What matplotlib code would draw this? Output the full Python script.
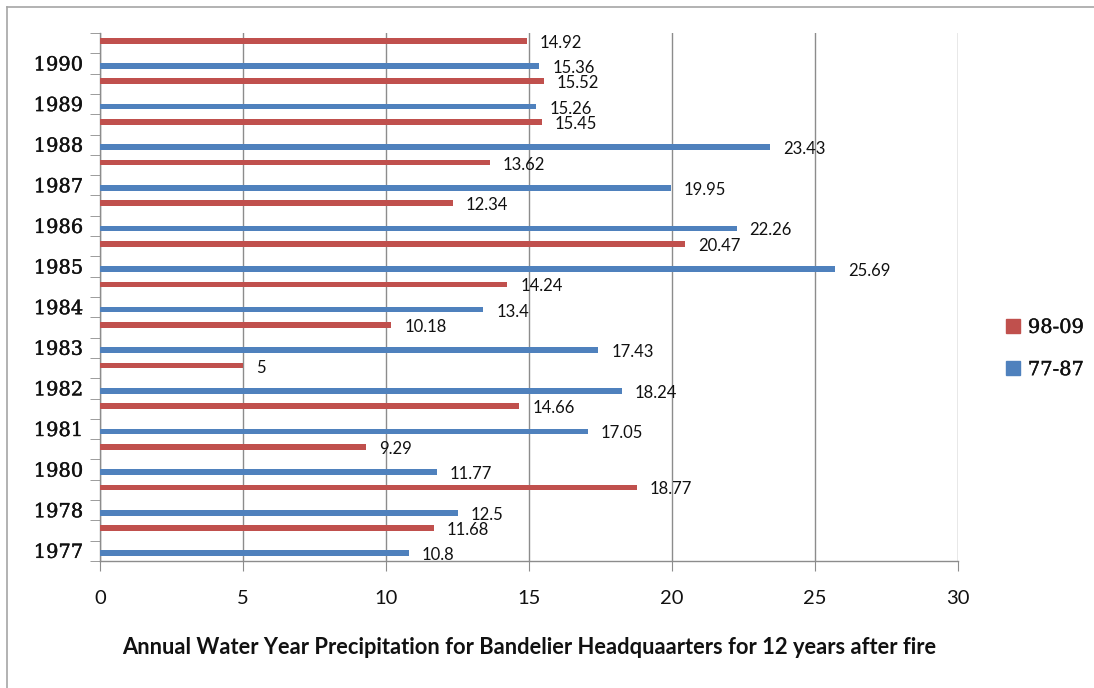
import matplotlib
matplotlib.use("Agg")
import matplotlib.pyplot as plt
import matplotlib.patheffects as pe
from matplotlib.patches import Patch
from matplotlib.lines import Line2D
import numpy as np

years = ['1977', '1978', '1980', '1981', '1982', '1983', '1984', '1985',
         '1986', '1987', '1988', '1989', '1990']
series_77_87 = [10.8, 12.5, 11.77, 17.05, 18.24, 17.43, 13.4, 25.69,
                22.26, 19.95, 23.43, 15.26, 15.36]
series_98_09 = [11.68, 18.77, 9.29, 14.66, 5, 10.18, 14.24, 20.47,
                12.34, 13.62, 15.45, 15.52, 14.92]
x_ticks = [0, 5, 10, 15, 20, 25, 30]
title = "Annual Water Year Precipitation for Bandelier Headquaarters for 12 years after fire"

RED = "#C0504D"
BLUE = "#4F81BD"
GRID = "#8C8C8C"
TXT = "#111111"

W, H = 1094, 688
fig = plt.figure(figsize=(W / 100, H / 100), dpi=100)
ax = fig.add_axes([100 / W, 1 - 561 / H, 858 / W, (561 - 33) / H])

n = len(years)
slot_blue = np.arange(n) * 2          # slots 0,2,4...
slot_red = np.arange(n) * 2 + 1       # slots 1,3,5...
off = 0.12
bh = 0.28

ax.barh(slot_blue - off, series_77_87, height=bh, color=BLUE, zorder=3)
ax.barh(slot_red + off, series_98_09, height=bh, color=RED, zorder=3)

for y, v in zip(slot_blue - off, series_77_87):
    ax.annotate(f"{v:g}", (v, y), xytext=(13, -2), textcoords="offset pixels",
                ha="left", va="center", fontsize=12, family="Lato", color=TXT)
for y, v in zip(slot_red + off, series_98_09):
    ax.annotate(f"{v:g}", (v, y), xytext=(13, -2), textcoords="offset pixels",
                ha="left", va="center", fontsize=12, family="Lato", color=TXT)

ax.set_xlim(0, 30)
ax.set_ylim(-0.5, 2 * n - 0.5)
ax.set_xticks(x_ticks)
ax.set_xticklabels([str(t) for t in x_ticks], fontsize=14.5, family="Lato", color=TXT)
ax.tick_params(axis="x", length=7, color=GRID, pad=14, direction="out")

heavy = [pe.withStroke(linewidth=0.3, foreground=TXT)]
ax.set_yticks(slot_blue)
ax.set_yticklabels(years, fontsize=14, family="DejaVu Serif", color=TXT)
for lab in ax.get_yticklabels():
    lab.set_path_effects(heavy)
ax.tick_params(axis="y", which="major", length=0, pad=12)
ax.set_yticks(np.arange(-0.5, 2 * n, 1.0), minor=True)
ax.tick_params(axis="y", which="minor", length=7, color=GRID, direction="out")

ax.grid(axis="x", color=GRID, linewidth=1.0, zorder=0)
ax.set_axisbelow(True)
for s in ["top", "right"]:
    ax.spines[s].set_visible(False)
for s in ["left", "bottom"]:
    ax.spines[s].set_color(GRID)
    ax.spines[s].set_linewidth(1.0)

# x label (title) fitted to reference width
t = fig.text(529 / W, 1 - 648 / H, title, ha="center", va="center",
             fontsize=13, fontweight="bold", family="Lato", color=TXT)
fig.canvas.draw()
wpx = t.get_window_extent().width
t.set_fontsize(13 * 810 / wpx)

handles = [Patch(facecolor=RED, edgecolor=RED), Patch(facecolor=BLUE, edgecolor=BLUE)]
leg = fig.legend(handles, ["98-09", "77-87"], loc="center left",
                 bbox_to_anchor=(988 / W, 1 - 349 / H), frameon=False,
                 prop={"family": "DejaVu Serif", "size": 14},
                 handlelength=0.75, handleheight=0.75, handletextpad=0.4,
                 labelspacing=1.25)
for txt in leg.get_texts():
    txt.set_color(TXT)
    txt.set_path_effects(heavy)

# outer chart frame (top and left visible)
fig.add_artist(Line2D([7 / W, 1], [1 - 7 / H, 1 - 7 / H], color="#A6A6A6", lw=1.2,
                      transform=fig.transFigure))
fig.add_artist(Line2D([7 / W, 7 / W], [0, 1 - 7 / H], color="#A6A6A6", lw=1.2,
                      transform=fig.transFigure))

fig.savefig("out.png", dpi=100)
